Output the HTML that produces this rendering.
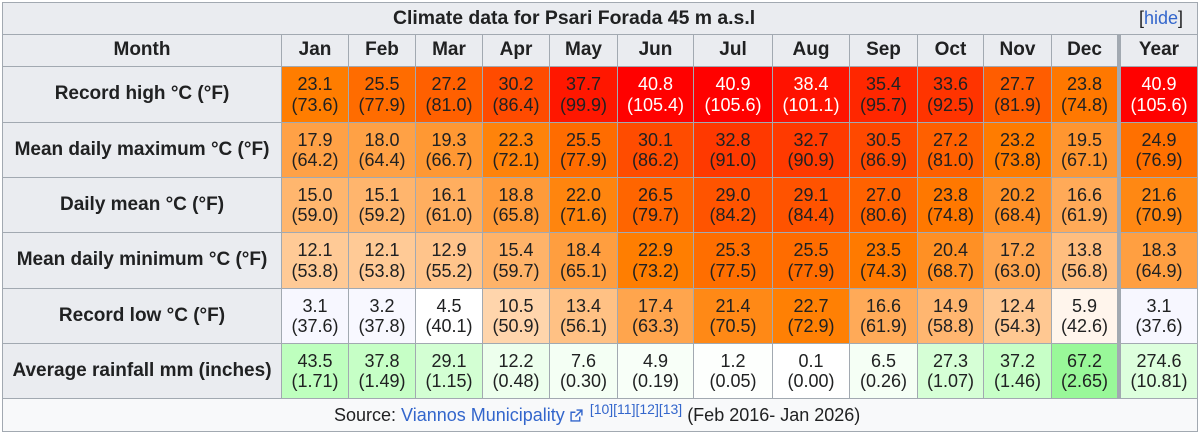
<!DOCTYPE html>
<html><head><meta charset="utf-8"><style>
html,body{margin:0;padding:0;background:#fff;}
#w{position:relative;width:1200px;height:436px;overflow:hidden;background:#fff;font-family:"Liberation Sans",Arial,sans-serif;color:#202122;}
#bg{position:absolute;left:2px;top:2px;width:1196px;height:430px;background:#a2a9b1;}
.c{position:absolute;display:flex;align-items:center;justify-content:center;text-align:center;font-size:18px;line-height:20.5px;white-space:nowrap;}
.h{background:#eaecf0;font-weight:bold;font-size:19px;}
.w{color:#fff;}
.k0{left:3px;width:278px}
.k1{left:282px;width:66px}
.k2{left:349px;width:66px}
.k3{left:416px;width:66px}
.k4{left:483px;width:66px}
.k5{left:550px;width:67px}
.k6{left:618px;width:75px}
.k7{left:694px;width:78px}
.k8{left:773px;width:76px}
.k9{left:850px;width:67px}
.k10{left:918px;width:65px}
.k11{left:984px;width:67px}
.k12{left:1052px;width:65px}
.k13{left:1121px;width:76px}
.r0{top:35px;height:31px}
.r1{top:67px;height:55px}
.r2{top:123px;height:54px}
.r3{top:178px;height:54px}
.r4{top:233px;height:55px}
.r5{top:289px;height:54px}
.r6{top:344px;height:54px}
a{color:#3366cc;text-decoration:none;}
</style></head><body><div id="w">
<div id="bg"></div>
<div class="c h" style="left:3px;top:3px;width:1194px;height:31px;"></div>
<div style="position:absolute;left:393px;top:3px;height:31px;line-height:31px;font-size:19.4px;font-weight:bold;white-space:nowrap;">Climate data for Psari Forada 45 m a.s.l</div>
<div style="position:absolute;left:1139px;top:3px;height:31px;line-height:31px;font-size:18px;white-space:nowrap;">[<a>hide</a>]</div>

<div class="c h k0 r0">Month</div>
<div class="c h k1 r0">Jan</div>
<div class="c h k2 r0">Feb</div>
<div class="c h k3 r0">Mar</div>
<div class="c h k4 r0">Apr</div>
<div class="c h k5 r0">May</div>
<div class="c h k6 r0">Jun</div>
<div class="c h k7 r0">Jul</div>
<div class="c h k8 r0">Aug</div>
<div class="c h k9 r0">Sep</div>
<div class="c h k10 r0">Oct</div>
<div class="c h k11 r0">Nov</div>
<div class="c h k12 r0">Dec</div>
<div class="c h k13 r0">Year</div>

<div class="c h k0 r1">Record high °C (°F)</div>
<div class="c k1 r1" style="background:rgb(255,125,0)">23.1<br>(73.6)</div>
<div class="c k2 r1" style="background:rgb(255,108,0)">25.5<br>(77.9)</div>
<div class="c k3 r1" style="background:rgb(255,96,0)">27.2<br>(81.0)</div>
<div class="c k4 r1" style="background:rgb(255,75,0)">30.2<br>(86.4)</div>
<div class="c k5 r1" style="background:rgb(255,23,0)">37.7<br>(99.9)</div>
<div class="c k6 r1 w" style="background:rgb(255,1,0)">40.8<br>(105.4)</div>
<div class="c k7 r1 w" style="background:rgb(255,1,0)">40.9<br>(105.6)</div>
<div class="c k8 r1 w" style="background:rgb(255,18,0)">38.4<br>(101.1)</div>
<div class="c k9 r1" style="background:rgb(255,39,0)">35.4<br>(95.7)</div>
<div class="c k10 r1" style="background:rgb(255,52,0)">33.6<br>(92.5)</div>
<div class="c k11 r1" style="background:rgb(255,93,0)">27.7<br>(81.9)</div>
<div class="c k12 r1" style="background:rgb(255,120,0)">23.8<br>(74.8)</div>
<div class="c k13 r1 w" style="background:rgb(255,1,0)">40.9<br>(105.6)</div>

<div class="c h k0 r2">Mean daily maximum °C (°F)</div>
<div class="c k1 r2" style="background:rgb(255,161,70)">17.9<br>(64.2)</div>
<div class="c k2 r2" style="background:rgb(255,161,69)">18.0<br>(64.4)</div>
<div class="c k3 r2" style="background:rgb(255,152,51)">19.3<br>(66.7)</div>
<div class="c k4 r2" style="background:rgb(255,131,10)">22.3<br>(72.1)</div>
<div class="c k5 r2" style="background:rgb(255,108,0)">25.5<br>(77.9)</div>
<div class="c k6 r2" style="background:rgb(255,76,0)">30.1<br>(86.2)</div>
<div class="c k7 r2" style="background:rgb(255,57,0)">32.8<br>(91.0)</div>
<div class="c k8 r2" style="background:rgb(255,58,0)">32.7<br>(90.9)</div>
<div class="c k9 r2" style="background:rgb(255,73,0)">30.5<br>(86.9)</div>
<div class="c k10 r2" style="background:rgb(255,96,0)">27.2<br>(81.0)</div>
<div class="c k11 r2" style="background:rgb(255,124,0)">23.2<br>(73.8)</div>
<div class="c k12 r2" style="background:rgb(255,150,48)">19.5<br>(67.1)</div>
<div class="c k13 r2" style="background:rgb(255,112,0)">24.9<br>(76.9)</div>

<div class="c h k0 r3">Daily mean °C (°F)</div>
<div class="c k1 r3" style="background:rgb(255,182,110)">15.0<br>(59.0)</div>
<div class="c k2 r3" style="background:rgb(255,181,109)">15.1<br>(59.2)</div>
<div class="c k3 r3" style="background:rgb(255,174,95)">16.1<br>(61.0)</div>
<div class="c k4 r3" style="background:rgb(255,155,58)">18.8<br>(65.8)</div>
<div class="c k5 r3" style="background:rgb(255,133,14)">22.0<br>(71.6)</div>
<div class="c k6 r3" style="background:rgb(255,101,0)">26.5<br>(79.7)</div>
<div class="c k7 r3" style="background:rgb(255,84,0)">29.0<br>(84.2)</div>
<div class="c k8 r3" style="background:rgb(255,83,0)">29.1<br>(84.4)</div>
<div class="c k9 r3" style="background:rgb(255,98,0)">27.0<br>(80.6)</div>
<div class="c k10 r3" style="background:rgb(255,120,0)">23.8<br>(74.8)</div>
<div class="c k11 r3" style="background:rgb(255,145,39)">20.2<br>(68.4)</div>
<div class="c k12 r3" style="background:rgb(255,170,88)">16.6<br>(61.9)</div>
<div class="c k13 r3" style="background:rgb(255,136,19)">21.6<br>(70.9)</div>

<div class="c h k0 r4">Mean daily minimum °C (°F)</div>
<div class="c k1 r4" style="background:rgb(255,202,150)">12.1<br>(53.8)</div>
<div class="c k2 r4" style="background:rgb(255,202,150)">12.1<br>(53.8)</div>
<div class="c k3 r4" style="background:rgb(255,196,139)">12.9<br>(55.2)</div>
<div class="c k4 r4" style="background:rgb(255,179,105)">15.4<br>(59.7)</div>
<div class="c k5 r4" style="background:rgb(255,158,63)">18.4<br>(65.1)</div>
<div class="c k6 r4" style="background:rgb(255,126,1)">22.9<br>(73.2)</div>
<div class="c k7 r4" style="background:rgb(255,110,0)">25.3<br>(77.5)</div>
<div class="c k8 r4" style="background:rgb(255,108,0)">25.5<br>(77.9)</div>
<div class="c k9 r4" style="background:rgb(255,122,0)">23.5<br>(74.3)</div>
<div class="c k10 r4" style="background:rgb(255,144,36)">20.4<br>(68.7)</div>
<div class="c k11 r4" style="background:rgb(255,166,80)">17.2<br>(63.0)</div>
<div class="c k12 r4" style="background:rgb(255,190,127)">13.8<br>(56.8)</div>
<div class="c k13 r4" style="background:rgb(255,159,65)">18.3<br>(64.9)</div>

<div class="c h k0 r5">Record low °C (°F)</div>
<div class="c k1 r5" style="background:rgb(247,247,255)">3.1<br>(37.6)</div>
<div class="c k2 r5" style="background:rgb(248,248,255)">3.2<br>(37.8)</div>
<div class="c k3 r5" style="background:rgb(255,255,255)">4.5<br>(40.1)</div>
<div class="c k4 r5" style="background:rgb(255,213,172)">10.5<br>(50.9)</div>
<div class="c k5 r5" style="background:rgb(255,193,132)">13.4<br>(56.1)</div>
<div class="c k6 r5" style="background:rgb(255,165,77)">17.4<br>(63.3)</div>
<div class="c k7 r5" style="background:rgb(255,137,22)">21.4<br>(70.5)</div>
<div class="c k8 r5" style="background:rgb(255,128,4)">22.7<br>(72.9)</div>
<div class="c k9 r5" style="background:rgb(255,170,88)">16.6<br>(61.9)</div>
<div class="c k10 r5" style="background:rgb(255,182,112)">14.9<br>(58.8)</div>
<div class="c k11 r5" style="background:rgb(255,200,146)">12.4<br>(54.3)</div>
<div class="c k12 r5" style="background:rgb(255,245,236)">5.9<br>(42.6)</div>
<div class="c k13 r5" style="background:rgb(247,247,255)">3.1<br>(37.6)</div>

<div class="c h k0 r6">Average rainfall mm (inches)</div>
<div class="c k1 r6" style="background:rgb(190,255,190)">43.5<br>(1.71)</div>
<div class="c k2 r6" style="background:rgb(198,255,198)">37.8<br>(1.49)</div>
<div class="c k3 r6" style="background:rgb(211,255,211)">29.1<br>(1.15)</div>
<div class="c k4 r6" style="background:rgb(237,255,237)">12.2<br>(0.48)</div>
<div class="c k5 r6" style="background:rgb(244,255,244)">7.6<br>(0.30)</div>
<div class="c k6 r6" style="background:rgb(248,255,248)">4.9<br>(0.19)</div>
<div class="c k7 r6" style="background:rgb(253,255,253)">1.2<br>(0.05)</div>
<div class="c k8 r6" style="background:rgb(255,255,255)">0.1<br>(0.00)</div>
<div class="c k9 r6" style="background:rgb(245,255,245)">6.5<br>(0.26)</div>
<div class="c k10 r6" style="background:rgb(214,255,214)">27.3<br>(1.07)</div>
<div class="c k11 r6" style="background:rgb(199,255,199)">37.2<br>(1.46)</div>
<div class="c k12 r6" style="background:rgb(153,248,153)">67.2<br>(2.65)</div>
<div class="c k13 r6" style="background:rgb(221,255,221)">274.6<br>(10.81)</div>

<div style="position:absolute;left:3px;top:399px;width:1194px;height:32px;background:#f8f9fa;"></div>
<div style="position:absolute;left:334px;top:399px;height:32px;line-height:32px;font-size:18px;white-space:nowrap;">Source: <a>Viannos Municipality</a><svg width="13" height="13" viewBox="0 0 12 12" style="margin-left:5px;vertical-align:-1px"><path d="M6 1h5v5M11 1L5 7" fill="none" stroke="#3366cc" stroke-width="1.3"/><path d="M9 7v4H1V3h4" fill="none" stroke="#3366cc" stroke-width="1.3"/></svg><span style="font-size:14px;position:relative;top:-7px;margin-left:7px;color:#3366cc;">[10][11][12][13]</span> (Feb 2016- Jan 2026)</div>
</div></body></html>
